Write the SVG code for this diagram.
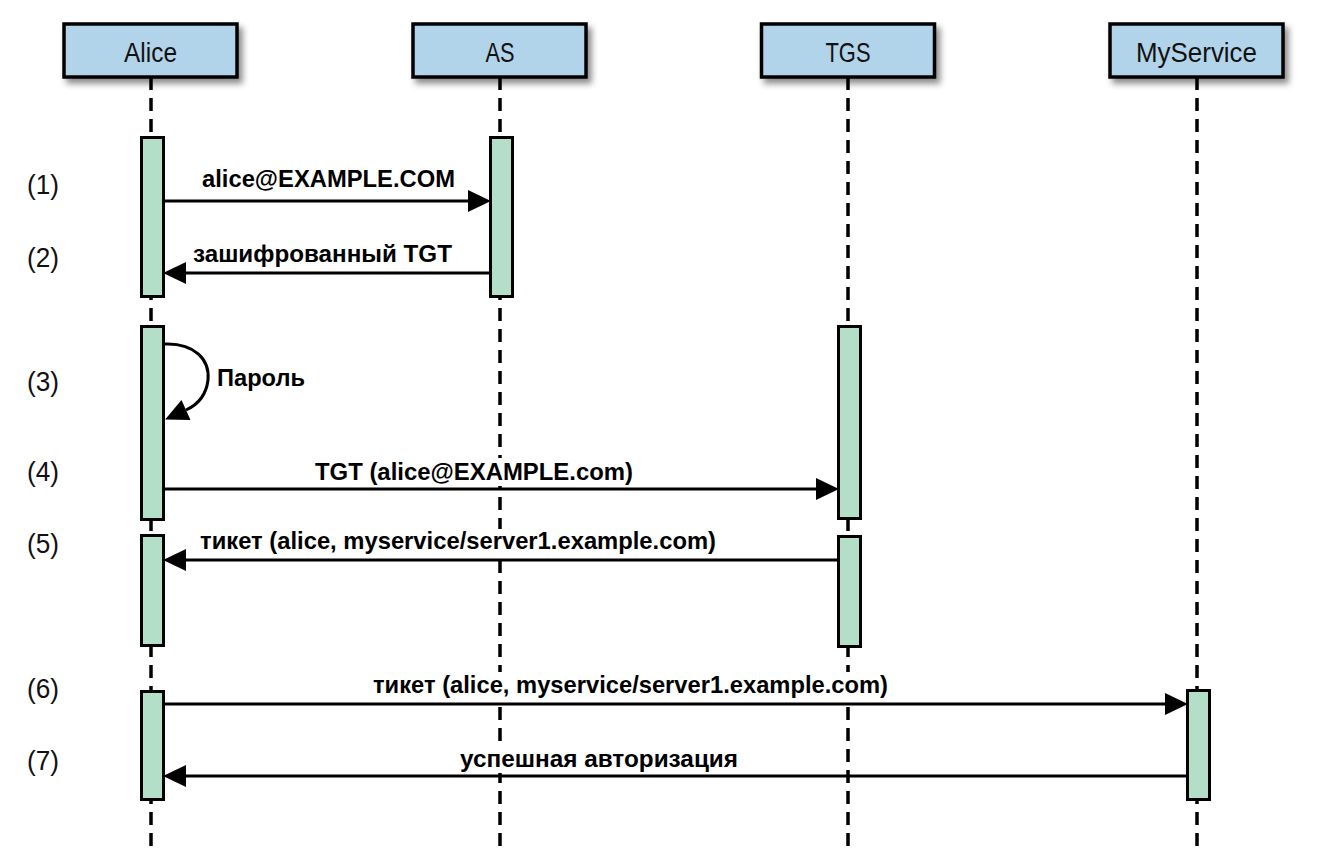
<svg xmlns="http://www.w3.org/2000/svg" width="1325" height="868" viewBox="0 0 1325 868">
<defs>
<filter id="sh" x="-10%" y="-20%" width="130%" height="160%">
<feDropShadow dx="4" dy="5" stdDeviation="3" flood-color="#000" flood-opacity="0.45"/>
</filter>
<marker id="ah" markerUnits="userSpaceOnUse" markerWidth="24" markerHeight="24" refX="0" refY="0" viewBox="0 -11 22 22" orient="auto" overflow="visible">
<path d="M0,-10 L21,0 L0,10 Z" fill="#000"/>
</marker>
<style>
.box{fill:#b2d4ea;stroke:#000;stroke-width:3.5}
.hdr{font-family:"Liberation Sans",Arial,sans-serif;font-size:28px;fill:#111;text-anchor:middle}
.life{stroke:#000;stroke-width:3.5;stroke-dasharray:13 8;fill:none}
.bar{fill:#b3dec8;stroke:#000;stroke-width:3}
.msg{stroke:#000;stroke-width:3;fill:none;marker-end:url(#ah)}
.lbl{font-family:"Liberation Sans",Arial,sans-serif;font-size:24px;font-weight:bold;fill:#000;text-anchor:middle}
.num{font-family:"Liberation Sans",Arial,sans-serif;font-size:28px;fill:#111}
.bg{fill:#fff}
</style>
</defs>
<rect width="1325" height="868" fill="#fff"/>

<g id="lifelines">
<line class="life" x1="151" y1="77" x2="151" y2="848"/>
<line class="life" x1="500" y1="77" x2="500" y2="848"/>
<line class="life" x1="848" y1="77" x2="848" y2="848"/>
<line class="life" x1="1197" y1="77" x2="1197" y2="848"/>
</g>

<g id="alice">
<rect class="box" x="64" y="24" width="173" height="53" filter="url(#sh)"/>
<text class="hdr" x="150.5" y="62" textLength="53" lengthAdjust="spacingAndGlyphs">Alice</text>
</g>
<g id="as">
<rect class="box" x="413" y="24" width="173" height="53" filter="url(#sh)"/>
<text class="hdr" x="500" y="62" textLength="29" lengthAdjust="spacingAndGlyphs">AS</text>
</g>
<g id="tgs">
<rect class="box" x="761.5" y="24" width="173" height="53" filter="url(#sh)"/>
<text class="hdr" x="848" y="62" textLength="45" lengthAdjust="spacingAndGlyphs">TGS</text>
</g>
<g id="myservice">
<rect class="box" x="1110" y="24" width="173" height="53" filter="url(#sh)"/>
<text class="hdr" x="1196.5" y="62" textLength="121" lengthAdjust="spacingAndGlyphs">MyService</text>
</g>

<g id="activations">
<rect class="bar" x="141.5" y="137.5" width="22" height="159"/>
<rect class="bar" x="490.5" y="137.5" width="22" height="159"/>
<rect class="bar" x="141.5" y="326.5" width="22" height="193"/>
<rect class="bar" x="838.5" y="326.5" width="22" height="192"/>
<rect class="bar" x="141.5" y="535.5" width="22" height="110"/>
<rect class="bar" x="838.5" y="536.5" width="22" height="110"/>
<rect class="bar" x="141.5" y="691.5" width="22" height="108"/>
<rect class="bar" x="1187.5" y="690.5" width="22" height="109"/>
</g>

<g id="connectors">
<line class="msg" x1="165" y1="201" x2="468" y2="201"/>
<line class="msg" x1="489" y1="273" x2="186" y2="273"/>
<path class="msg" d="M165,344 C195,343 210,360 208,380 C206,397 197,405 186,410"/>
<line class="msg" x1="165" y1="489" x2="816" y2="489"/>
<line class="msg" x1="837" y1="560" x2="186" y2="560"/>
<line class="msg" x1="165" y1="704" x2="1165" y2="704"/>
<line class="msg" x1="1186" y1="776" x2="186" y2="776"/>
</g>

<g id="labels">
<text class="lbl" x="328.5" y="187" textLength="253" lengthAdjust="spacingAndGlyphs">alice@EXAMPLE.COM</text>
<text class="lbl" x="322.5" y="262" textLength="259" lengthAdjust="spacingAndGlyphs">зашифрованный TGT</text>
<text class="lbl" x="217" y="386" style="text-anchor:start" textLength="88" lengthAdjust="spacingAndGlyphs">Пароль</text>
<rect class="bg" x="313" y="458" width="322" height="28"/>
<text class="lbl" x="474" y="480" textLength="318" lengthAdjust="spacingAndGlyphs">TGT (alice@EXAMPLE.com)</text>
<rect class="bg" x="198" y="529" width="520" height="28"/>
<text class="lbl" x="458" y="549" textLength="516" lengthAdjust="spacingAndGlyphs">тикет (alice, myservice/server1.example.com)</text>
<rect class="bg" x="371" y="672" width="519" height="29"/>
<text class="lbl" x="630.5" y="693" textLength="515" lengthAdjust="spacingAndGlyphs">тикет (alice, myservice/server1.example.com)</text>
<rect class="bg" x="458" y="746" width="282" height="27"/>
<text class="lbl" x="599" y="767" textLength="278" lengthAdjust="spacingAndGlyphs">успешная авторизация</text>
</g>

<g id="steps">
<text class="num" x="27" y="194" textLength="32" lengthAdjust="spacingAndGlyphs">(1)</text>
<text class="num" x="27" y="267" textLength="32" lengthAdjust="spacingAndGlyphs">(2)</text>
<text class="num" x="27" y="391" textLength="32" lengthAdjust="spacingAndGlyphs">(3)</text>
<text class="num" x="27" y="481" textLength="32" lengthAdjust="spacingAndGlyphs">(4)</text>
<text class="num" x="27" y="553" textLength="32" lengthAdjust="spacingAndGlyphs">(5)</text>
<text class="num" x="27" y="698" textLength="32" lengthAdjust="spacingAndGlyphs">(6)</text>
<text class="num" x="27" y="770" textLength="32" lengthAdjust="spacingAndGlyphs">(7)</text>
</g>
</svg>
